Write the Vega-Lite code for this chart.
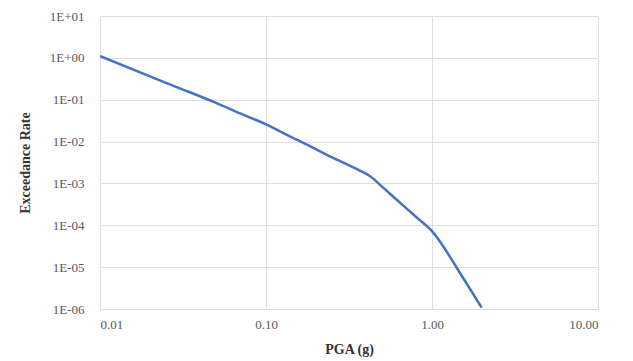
{
  "$schema": "https://vega.github.io/schema/vega-lite/v6.json",
  "autosize": {"type": "none"},
  "width": 498,
  "height": 293,
  "padding": {"left": 100, "top": 16, "right": 35, "bottom": 52},
  "background": "white",
  "config": {
    "view": {"stroke": null},
    "font": "Liberation Serif"
  },
  "data": {
    "values": [
      {"pga": 0.01, "rate": 1.1},
      {"pga": 0.02, "rate": 0.36},
      {"pga": 0.03, "rate": 0.19},
      {"pga": 0.05, "rate": 0.084},
      {"pga": 0.07, "rate": 0.047},
      {"pga": 0.1, "rate": 0.0256},
      {"pga": 0.14, "rate": 0.0132},
      {"pga": 0.184, "rate": 0.0078},
      {"pga": 0.25, "rate": 0.0042},
      {"pga": 0.3, "rate": 0.003},
      {"pga": 0.37, "rate": 0.002},
      {"pga": 0.424, "rate": 0.00149},
      {"pga": 0.5, "rate": 0.00084},
      {"pga": 0.64, "rate": 0.00035},
      {"pga": 0.8, "rate": 0.00016},
      {"pga": 1.0, "rate": 0.0000727},
      {"pga": 1.5, "rate": 0.0000065},
      {"pga": 1.99, "rate": 0.00000108}
    ]
  },
  "mark": {"type": "line", "color": "#4472C4", "strokeWidth": 2.5, "clip": true, "interpolate": "monotone"},
  "encoding": {
    "x": {
      "field": "pga",
      "type": "quantitative",
      "scale": {"type": "log", "domain": [0.01, 10], "nice": false},
      "axis": {
        "values": [0.01, 0.1, 1, 10],
        "format": ".2f",
        "title": "PGA (g)",
        "titleFont": "Liberation Serif",
        "titleFontSize": 14,
        "titleFontWeight": "bold",
        "titleColor": "#333333",
        "titlePadding": 11,
        "labelFont": "Liberation Serif",
        "labelFontSize": 13,
        "labelColor": "#595959",
        "labelPadding": 9,
        "ticks": false,
        "domain": false,
        "grid": true,
        "gridColor": "#dedede",
        "gridWidth": 1
      }
    },
    "y": {
      "field": "rate",
      "type": "quantitative",
      "scale": {"type": "log", "domain": [0.000001, 10], "nice": false},
      "axis": {
        "values": [10, 1, 0.1, 0.01, 0.001, 0.0001, 0.00001, 0.000001],
        "labelExpr": "'1E' + (round(log(datum.value)/LN10) >= 0 ? '+' : '-') + '0' + abs(round(log(datum.value)/LN10))",
        "title": "Exceedance Rate",
        "titleFont": "Liberation Serif",
        "titleFontSize": 14,
        "titleFontWeight": "bold",
        "titleColor": "#333333",
        "titlePadding": 17,
        "labelFont": "Liberation Serif",
        "labelFontSize": 13,
        "labelColor": "#595959",
        "labelPadding": 16,
        "ticks": false,
        "domain": false,
        "grid": true,
        "gridColor": "#dedede",
        "gridWidth": 1
      }
    }
  }
}
